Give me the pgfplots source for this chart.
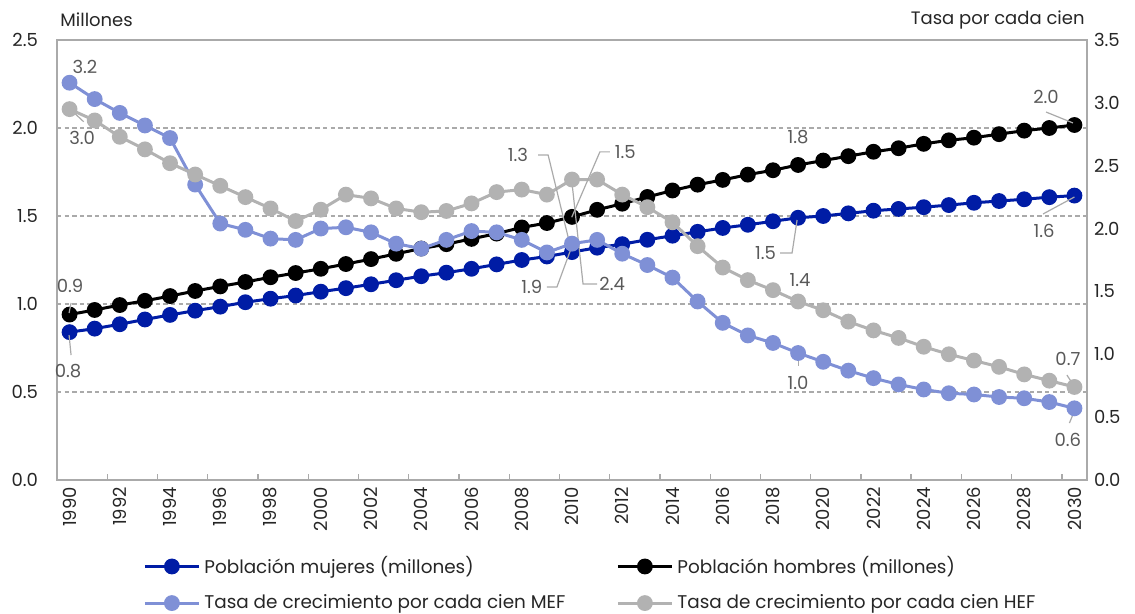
\documentclass[border=0pt]{standalone}
\usepackage{fontspec}
\setmainfont{Poppins}
\usepackage{pgfplots}
\pgfplotsset{compat=1.18}
\definecolor{muj}{RGB}{0,28,165}
\definecolor{mef}{RGB}{127,144,214}
\definecolor{hef}{RGB}{178,178,178}
\definecolor{axgray}{RGB}{170,170,170}
\definecolor{lbl}{RGB}{89,89,89}
\definecolor{txt}{RGB}{38,38,38}

\pgfplotstableread{
year muj hom
1990 0.84 0.94
1991 0.86 0.966
1992 0.885 0.994
1993 0.912 1.018
1994 0.938 1.045
1995 0.962 1.074
1996 0.985 1.10
1997 1.01 1.125
1998 1.03 1.152
1999 1.048 1.176
2000 1.07 1.20
2001 1.09 1.227
2002 1.112 1.255
2003 1.135 1.285
2004 1.158 1.315
2005 1.178 1.34
2006 1.20 1.37
2007 1.225 1.40
2008 1.25 1.435
2009 1.27 1.46
2010 1.295 1.495
2011 1.32 1.535
2012 1.34 1.57
2013 1.365 1.608
2014 1.388 1.645
2015 1.41 1.678
2016 1.432 1.705
2017 1.45 1.735
2018 1.47 1.76
2019 1.49 1.79
2020 1.50 1.815
2021 1.515 1.84
2022 1.53 1.865
2023 1.54 1.885
2024 1.55 1.91
2025 1.562 1.93
2026 1.575 1.945
2027 1.585 1.965
2028 1.595 1.985
2029 1.607 2.0
2030 1.616 2.017
}\pob

\pgfplotstableread{
year mef hef
1990 3.16 2.95
1991 3.03 2.86
1992 2.92 2.73
1993 2.82 2.63
1994 2.72 2.52
1995 2.35 2.43
1996 2.04 2.34
1997 1.99 2.25
1998 1.92 2.16
1999 1.91 2.06
2000 2.00 2.15
2001 2.01 2.27
2002 1.97 2.24
2003 1.88 2.16
2004 1.84 2.13
2005 1.91 2.14
2006 1.98 2.20
2007 1.97 2.29
2008 1.91 2.31
2009 1.81 2.27
2010 1.88 2.39
2011 1.91 2.39
2012 1.80 2.27
2013 1.71 2.17
2014 1.61 2.05
2015 1.42 1.86
2016 1.25 1.69
2017 1.15 1.59
2018 1.09 1.51
2019 1.01 1.42
2020 0.94 1.35
2021 0.87 1.26
2022 0.81 1.19
2023 0.76 1.13
2024 0.72 1.06
2025 0.69 1.00
2026 0.68 0.95
2027 0.66 0.90
2028 0.65 0.84
2029 0.62 0.79
2030 0.57 0.74
}\tasa

\pgfplotsset{
  ser/.style={line width=1.5pt, mark=*, mark size=3.2pt, mark options={solid, fill=#1, draw=#1}, draw=#1},
  legend image code/.code={\draw[#1, mark repeat=2, mark phase=2] plot coordinates {(0pt,0pt)(13.5pt,0pt)(27pt,0pt)};},
  basax/.style={at={(0,0)}, anchor=south west, scale only axis, width=515pt, height=220pt,
    xmin=1989.5, xmax=2030.5, clip=false,
    axis line style={draw=axgray, line width=0.7pt},
    tick label style={font=\fontsize{9}{10}\selectfont, text=txt},
  },
}

\begin{document}
\begin{tikzpicture}
\useasboundingbox (-28.5pt,-67pt) rectangle (539pt,240pt);
\begin{axis}[basax, name=ax,
  ymin=0, ymax=2.5,
  xtick={1990,1992,...,2030},
  xticklabels={1990,1992,1994,1996,1998,2000,2002,2004,2006,2008,2010,2012,2014,2016,2018,2020,2022,2024,2026,2028,2030},
  x tick label style={rotate=90, anchor=east},
  minor xtick={1991.5,1993.5,...,2029.5},
  major tick length=0pt, minor tick length=3pt,
  minor tick style={draw=axgray, line width=0.7pt},
  tick align=inside, tick pos=left,
  ytick={0,0.5,...,2.5},
  yticklabels={0.0,0.5,1.0,1.5,2.0,2.5},
  y tick label style={xshift=-6pt},
  ymajorgrids, grid style={draw=axgray, dash pattern=on 2.2pt off 1.6pt, line width=0.7pt},
  legend columns=2,
  legend style={draw=none, fill=none, at={(0,0)}, anchor=north west, xshift=40pt, yshift=-34pt,
    font=\fontsize{9.2}{10}\selectfont, text=txt, row sep=5pt, column sep=0pt,
    /tikz/every odd column/.append style={column sep=0pt}},
  legend cell align=left,
]
\addplot[ser=muj] table[x=year, y=muj] {\pob};
\addlegendentry{\makebox[204pt][l]{Población mujeres (millones)}}
\addplot[ser=black] table[x=year, y=hom] {\pob};
\addlegendentry{Población hombres (millones)}
\addlegendimage{ser=mef}
\addlegendentry{\makebox[204pt][l]{Tasa de crecimiento por cada cien MEF}}
\addlegendimage{ser=hef}
\addlegendentry{Tasa de crecimiento por cada cien HEF}
\end{axis}

\begin{axis}[basax,
  ymin=0, ymax=3.5,
  axis y line*=right, axis x line=none,
  ytick={0,0.5,...,3.5},
  yticklabels={0.0,0.5,1.0,1.5,2.0,2.5,3.0,3.5},
  major tick length=0pt,
  every node/.append style={font=\fontsize{9}{10}\selectfont},
]
\addplot[ser=mef] table[x=year, y=mef] {\tasa};
\addplot[ser=hef] table[x=year, y=hef] {\tasa};

% leader lines
\begin{scope}[draw=axgray, line width=0.6pt]
\draw (axis cs:1990.08,2.94) -- (axis cs:1990.56,2.85);
\draw (axis cs:1990.06,1.408) -- (axis cs:1989.98,1.328);
\draw (axis cs:1989.98,1.153) -- (axis cs:1990.06,0.994);
\draw (axis cs:2008.65,2.585) -- (axis cs:2009.05,2.585) -- (axis cs:2009.96,1.838);
\draw (axis cs:2011.51,2.61) -- (axis cs:2011.11,2.61) -- (axis cs:2009.99,2.09);
\draw (axis cs:2009.0,1.535) -- (axis cs:2009.4,1.535) -- (axis cs:2010.0,1.861);
\draw (axis cs:2011.0,1.559) -- (axis cs:2010.44,1.559) -- (axis cs:2010.0,2.363);
\draw (axis cs:2018.28,1.806) -- (axis cs:2018.76,1.806) -- (axis cs:2018.96,2.068);
\draw (axis cs:2019.0,0.994) -- (axis cs:2019.0,0.907);
\draw (axis cs:2028.87,2.927) -- (axis cs:2029.94,2.84);
\draw (axis cs:2028.75,2.116) -- (axis cs:2030.0,2.251);
\draw (axis cs:2029.7,0.835) -- (axis cs:2029.98,0.748);
\draw (axis cs:2029.8,0.453) -- (axis cs:2030.0,0.549);
\end{scope}

\begin{scope}[every node/.style={text=lbl, font=\fontsize{9}{10}\selectfont, inner sep=0pt}]
\node at (axis cs:1990.61,3.285) {3.2};
\node at (axis cs:1990.5,2.72) {3.0};
\node at (axis cs:1990.02,1.543) {0.9};
\node at (axis cs:1989.94,0.867) {0.8};
\node at (axis cs:2007.85,2.585) {1.3};
\node at (axis cs:2012.12,2.61) {1.5};
\node at (axis cs:2008.4,1.535) {1.9};
\node at (axis cs:2011.6,1.559) {2.4};
\node at (axis cs:2019.0,2.73) {1.8};
\node at (axis cs:2017.7,1.806) {1.5};
\node at (axis cs:2019.08,1.59) {1.4};
\node at (axis cs:2019.0,0.772) {1.0};
\node at (axis cs:2028.87,3.047) {2.0};
\node at (axis cs:2028.79,1.98) {1.6};
\node at (axis cs:2029.74,0.962) {0.7};
\node at (axis cs:2029.74,0.318) {0.6};
\end{scope}
\end{axis}

\node[anchor=west, inner sep=0pt, text=txt, font=\fontsize{9}{10}\selectfont] at ([xshift=1.5pt,yshift=10pt]ax.north west) {Millones};
\node[anchor=east, inner sep=0pt, text=txt, font=\fontsize{9}{10}\selectfont] at ([xshift=-1pt,yshift=10pt]ax.north east) {Tasa por cada cien};
\end{tikzpicture}
\end{document}
